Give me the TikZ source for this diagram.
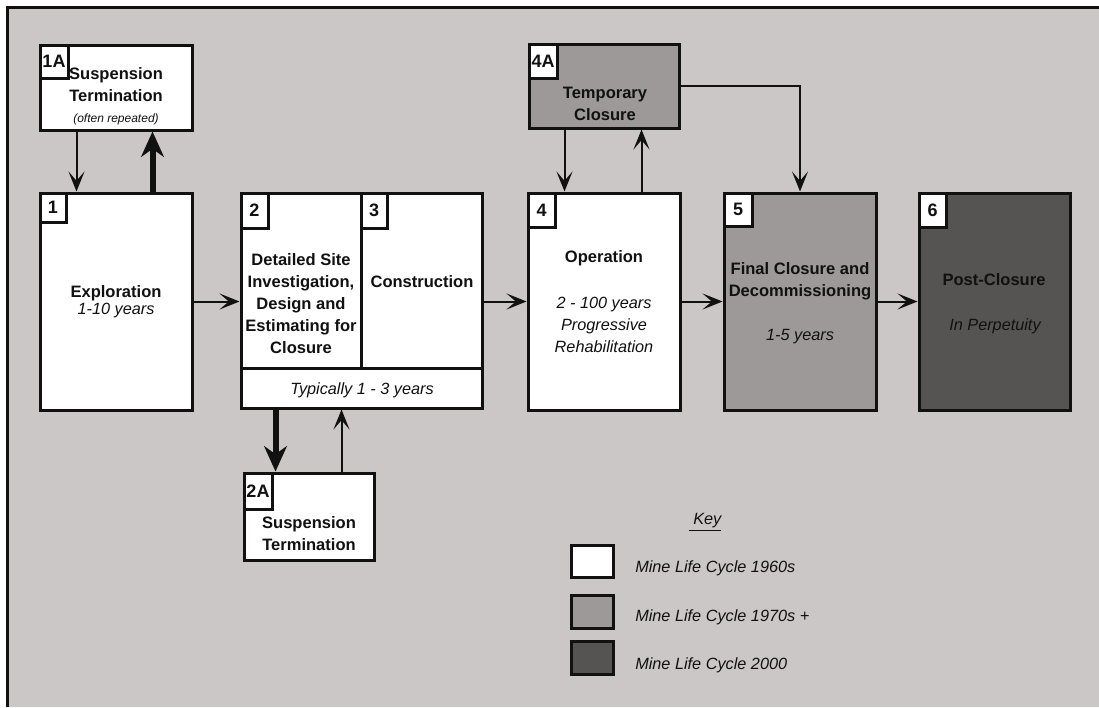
\documentclass[tikz,border=0pt]{standalone}
\usepackage{fontspec}
\setmainfont{Liberation Sans}
\usetikzlibrary{arrows.meta,fit,calc}
\definecolor{bg}{HTML}{CBC7C6}
\definecolor{midg}{HTML}{9C9998}
\definecolor{darkg}{HTML}{555453}
\definecolor{ink}{HTML}{111111}
\begin{document}
\begin{tikzpicture}[x=0.75pt,y=-0.75pt,
 box/.style={draw=ink,line width=2.25pt,inner sep=0pt,fill=white},
 tag/.style={draw=ink,line width=2.25pt,fill=white,inner sep=0pt},
 tagt/.style={text=ink,inner sep=0pt,font=\fontsize{13.5}{15}\selectfont\bfseries},
 bt/.style={align=center,text=ink,inner sep=0pt,font=\fontsize{12.4}{16.5}\selectfont\bfseries},
 it/.style={align=center,text=ink,inner sep=0pt,font=\fontsize{12.2}{16.5}\selectfont\itshape},
 keyt/.style={anchor=west,text=ink,inner sep=0pt,font=\fontsize{12.2}{16.5}\selectfont\itshape},
 thinarr/.style={draw=ink,line width=1.5pt,-{Stealth[length=15pt,width=12pt,inset=7pt]}},
 thickarr/.style={draw=ink,line width=4.5pt,-{Stealth[length=19pt,width=17pt,inset=6pt]}},
]
\useasboundingbox (0,0) rectangle (1099,707);
\fill[white] (0,0) rectangle (1099,707);
\fill[bg] (7,7) rectangle (1099,707);
\draw[ink,line width=2.25pt] (7,707) -- (7,7) -- (1099,7);

% boxes
\node[box,fit={(40,45) (192,130)}] (b1a) {};
\node[box,fit={(40,193) (192,410)}] (b1) {};
\node[box,fit={(241,193) (361,368)}] (b2) {};
\node[box,fit={(361,193) (482,368)}] (b3) {};
\node[box,fit={(241,368) (482,408)}] (strip) {};
\node[box,fit={(244,473) (374,560)}] (b2a) {};
\node[box,fill=midg,fit={(529,44) (679,128)}] (b4a) {};
\node[box,fit={(528,193) (680,410)}] (b4) {};
\node[box,fill=midg,fit={(724,193) (876,410)}] (b5) {};
\node[box,fill=darkg,fit={(919,193) (1070,410)}] (b6) {};

% tags
\node[tag,fit={(40,45) (68,78)}] (t1a) {};
\node[tag,fit={(40,193) (66,222)}] (t1) {};
\node[tag,fit={(241,193) (268,228)}] (t2) {};
\node[tag,fit={(361,193) (387,228)}] (t3) {};
\node[tag,fit={(244,473) (272,509)}] (t2a) {};
\node[tag,fit={(529,44) (557,78)}] (t4a) {};
\node[tag,fit={(528,193) (555,227)}] (t4) {};
\node[tag,fit={(724,193) (752,226)}] (t5) {};
\node[tag,fit={(919,193) (946,227)}] (t6) {};
\node[tagt] (l1a) at (t1a.center) {1A};
\node[tagt] (l1) at (t1.center) {1};
\node[tagt] (l2) at (t2.center) {2};
\node[tagt] (l3) at (t3.center) {3};
\node[tagt] (l2a) at (t2a.center) {2A};
\node[tagt] (l4a) at (t4a.center) {4A};
\node[tagt] (l4) at (t4.center) {4};
\node[tagt] (l5) at (t5.center) {5};
\node[tagt] (l6) at (t6.center) {6};

% texts
\node[bt] (x1a) at (116,85) {Suspension\\Termination};
\node[it,font=\fontsize{9}{11}\selectfont\itshape] (x1ab) at (116,119) {(often repeated)};
\node[bt] (x1) at (116,293) {Exploration};
\node[it] (x1b) at (116,311) {1-10 years};
\node[bt] (x2) at (301,304) {Detailed Site\\Investigation,\\Design and\\Estimating for\\Closure};
\node[bt] (x3) at (422,282) {Construction};
\node[it] (xs) at (362,390) {Typically 1 - 3 years};
\node[bt] (x2a) at (309,534) {Suspension\\Termination};
\node[bt] (x4a) at (605,104) {Temporary\\Closure};
\node[bt] (x4) at (604,258) {Operation};
\node[it] (x4b) at (604,325) {2 - 100 years\\Progressive\\Rehabilitation};
\node[bt] (x5) at (800,281) {Final Closure and\\Decommissioning};
\node[it] (x5b) at (800,337) {1-5 years};
\node[bt] (x6) at (994,280) {Post-Closure};
\node[it] (x6b) at (995,326) {In Perpetuity};

% arrows
\draw[thinarr] ($(b1a.south west)+(38,0)$) -- ($(b1.north west)+(38,0)$);
\draw[thickarr] ($(b1.north west)+(114,0)$) -- ($(b1a.south west)+(114,0)$);
\draw[thinarr] (b1.east) -- (b1.east -| b2.west);
\draw[thinarr] (b4.west -| b3.east) -- (b4.west);
\draw[thickarr] ($(strip.south west)+(36,0)$) -- ($(b2a.north west)+(33,0)$);
\draw[thinarr] ($(b2a.north west)+(99,0)$) -- ($(strip.south west)+(102,0)$);
\draw[thinarr] ($(b4a.south west)+(37,0)$) -- ($(b4.north west)+(38,0)$);
\draw[thinarr] ($(b4.north west)+(115,0)$) -- ($(b4a.south west)+(114,0)$);
\draw[thinarr] ($(b4a.north east)+(0,43)$) -| (b5.north);
\draw[thinarr] (b4.east) -- (b5.west);
\draw[thinarr] (b5.east) -- (b6.west);

% key
\node[it] (key) at (705,522) {\underline{\ Key}};
\node[box,fit={(571,545) (613,577)}] (k1) {};
\node[box,fill=midg,fit={(571,595) (613,628)}] (k2) {};
\node[box,fill=darkg,fit={(571,641) (613,674)}] (k3) {};
\node[keyt] (k1t) at (635,568) {Mine Life Cycle 1960s};
\node[keyt] (k2t) at (635,617) {Mine Life Cycle 1970s +};
\node[keyt] (k3t) at (635,665) {Mine Life Cycle 2000};
\end{tikzpicture}
\end{document}
